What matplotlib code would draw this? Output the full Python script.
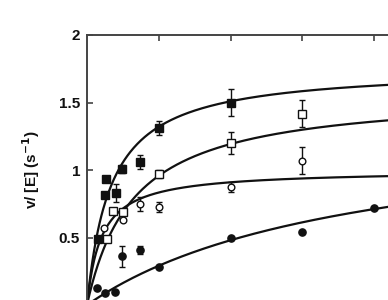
import numpy as np
import matplotlib
matplotlib.use('Agg')
import matplotlib.pyplot as plt

plt.rcParams['font.family'] = ['Liberation Sans', 'DejaVu Sans']

INK = '#111111'
SPINE = '#444444'

# filled squares
sq_f_x = [0.15, 0.25, 0.27, 0.40, 0.49, 0.74, 1.0, 2.0]
sq_f_v = [0.49, 0.815, 0.935, 0.83, 1.01, 1.06, 1.31, 1.50]
sq_f_e = [0.0, 0.0, 0.0, 0.07, 0.03, 0.05, 0.05, 0.10]

# open squares
sq_o_x = [0.28, 0.36, 0.50, 1.0, 2.0, 3.0]
sq_o_v = [0.49, 0.70, 0.69, 0.97, 1.20, 1.415]
sq_o_e = [0.0, 0.0, 0.0, 0.03, 0.08, 0.10]

# open circles
ci_o_x = [0.24, 0.50, 0.74, 1.0, 2.0, 3.0]
ci_o_v = [0.57, 0.63, 0.75, 0.726, 0.874, 1.07]
ci_o_e = [0.0, 0.0, 0.05, 0.04, 0.04, 0.10]

# filled circles
ci_f_x = [0.14, 0.25, 0.39, 0.49, 0.74, 1.0, 2.0, 3.0, 4.0]
ci_f_v = [0.126, 0.09, 0.096, 0.36, 0.41, 0.28, 0.50, 0.54, 0.72]
ci_f_e = [0.0, 0.0, 0.0, 0.08, 0.03, 0.0, 0.0, 0.0, 0.0]

# Michaelis-Menten fit parameters (Vmax, Km) for each curve
fit_vmax = [1.76, 1.58, 1.00, 1.37]
fit_km = [0.333, 0.65, 0.20, 3.71]

fig = plt.figure(figsize=(3.88, 3.0), dpi=100, facecolor='white')
ax = fig.add_axes([87 / 388, -5 / 300, 359 / 388, 270 / 300])
ax.set_xlim(0, 5)
ax.set_ylim(0, 2)

xs = np.linspace(0, 5, 400)
for vm, km in zip(fit_vmax, fit_km):
    ax.plot(xs, vm * xs / (km + xs), color=INK, lw=1.6, zorder=2)

err_kw = dict(ecolor=INK, elinewidth=1.0, capsize=2.5, capthick=1.0, ls='none', zorder=3)
ax.errorbar(sq_f_x, sq_f_v, yerr=sq_f_e, marker='s', ms=6.0, mfc=INK, mec=INK, **err_kw)
ax.errorbar(sq_o_x, sq_o_v, yerr=sq_o_e, marker='s', ms=5.2, mfc='white', mec=INK, mew=1.0, **err_kw)
ax.errorbar(ci_o_x, ci_o_v, yerr=ci_o_e, marker='o', ms=4.8, mfc='white', mec=INK, mew=1.0, **err_kw)
ax.errorbar(ci_f_x, ci_f_v, yerr=ci_f_e, marker='o', ms=5.2, mfc=INK, mec=INK, **err_kw)

ax.set_yticks([0, 0.5, 1, 1.5, 2])
ax.set_yticklabels(['', '0.5', '1', '1.5', '2'], fontsize=11, fontweight='bold', color=INK)
ax.set_xticks([1, 2, 3, 4])
ax.tick_params(axis='y', direction='in', length=4, width=1.2, pad=5, color=SPINE, right=False)
ax.tick_params(axis='x', direction='in', length=4, width=1.2, top=True, bottom=False,
               labelbottom=False, color=SPINE)
for s in ax.spines.values():
    s.set_linewidth(1.4)
    s.set_color(SPINE)

ax.set_ylabel('v/ [E] (s$^{\\mathbf{-1}}$)', fontsize=11, fontweight='bold', color=INK, labelpad=12)

fig.savefig('out.png', dpi=100, facecolor='white')
